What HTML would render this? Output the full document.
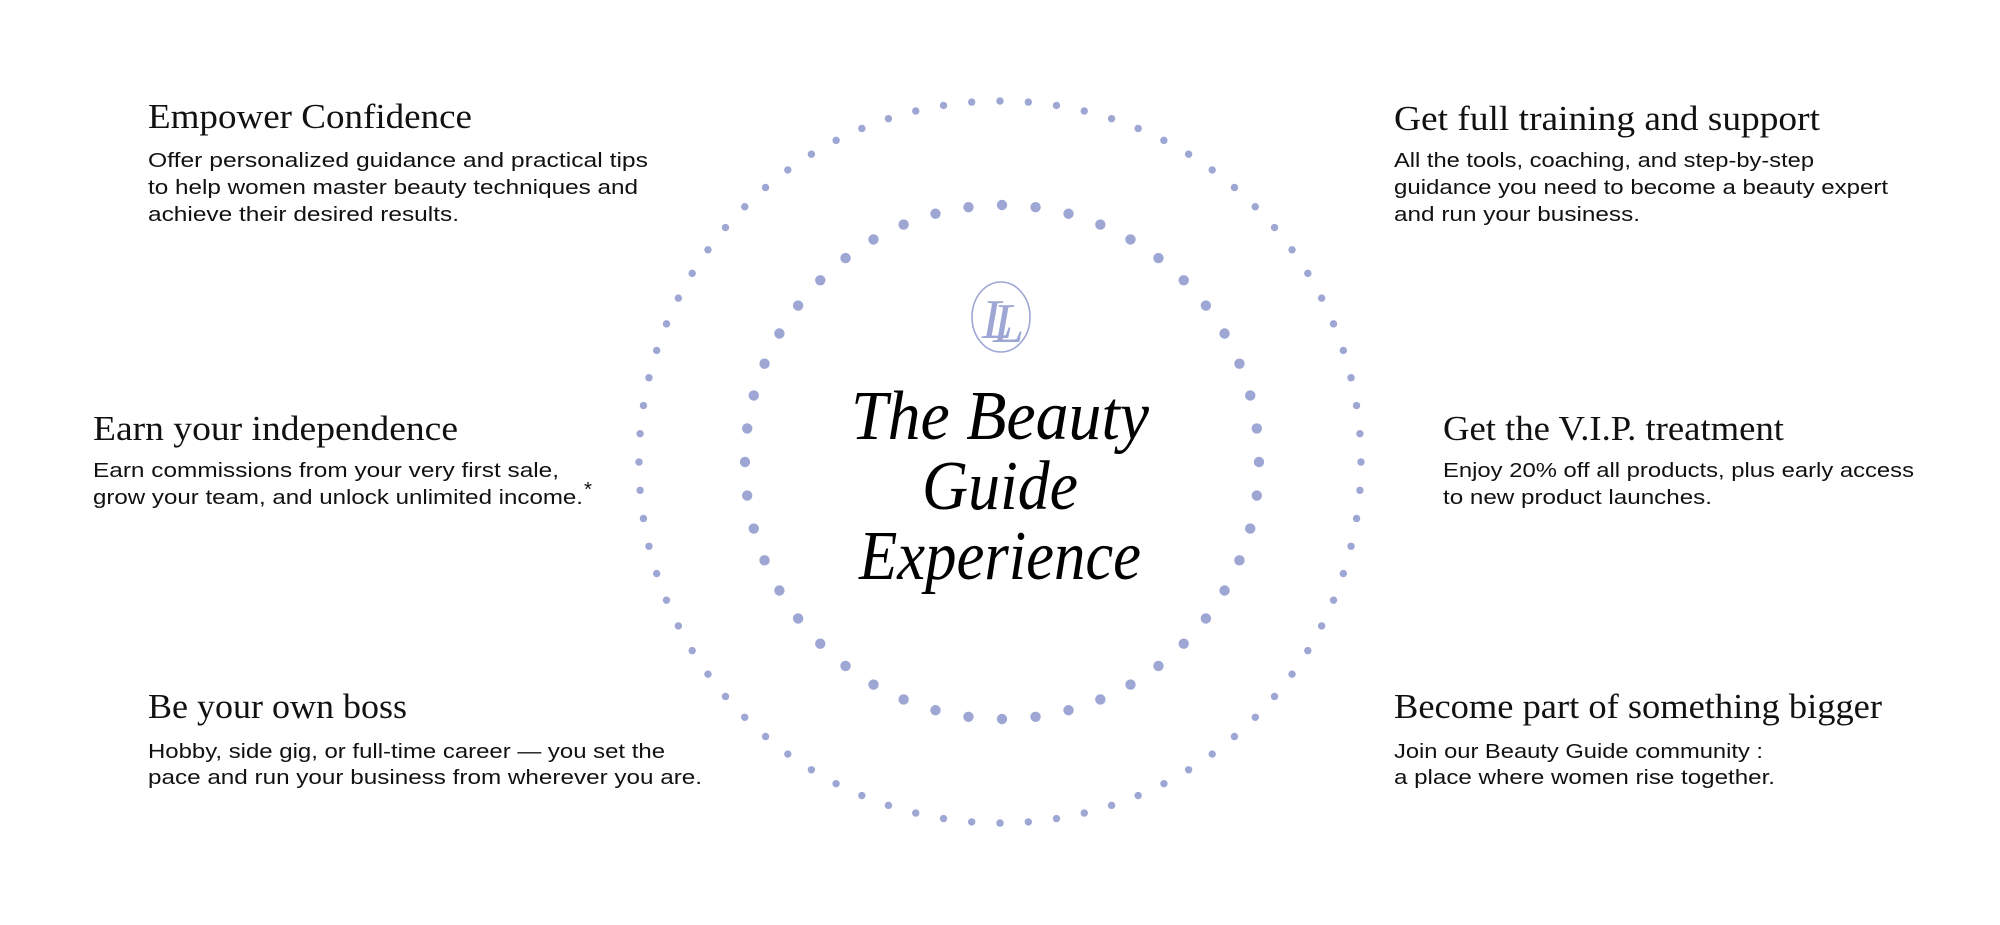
<!DOCTYPE html>
<html><head><meta charset="utf-8"><style>
html,body{margin:0;padding:0;background:#fff;}
svg{display:block;}
.h{font-family:"Liberation Serif",serif;font-size:35px;fill:#111;}
.b{font-family:"Liberation Sans",sans-serif;font-size:20.5px;fill:#111;}
.t{font-family:"Liberation Serif",serif;font-style:italic;font-size:70px;fill:#000;}
</style></head><body>
<svg id="s" width="2000" height="925" viewBox="0 0 2000 925" xmlns="http://www.w3.org/2000/svg">
<rect width="2000" height="925" fill="#fff"/>
<g id="dots" fill="#9ea6d4"></g>
<ellipse cx="1001" cy="317" rx="29" ry="35" fill="none" stroke="#9ea6d4" stroke-width="1.6"/>
<text x="982" y="338" font-family="Liberation Serif,serif" font-style="italic" font-size="56" fill="#9ea6d4">L</text>
<text x="993" y="342" font-family="Liberation Serif,serif" font-style="italic" font-size="56" fill="#9ea6d4">L</text>
<text class="t" x="851" y="439" textLength="298" lengthAdjust="spacingAndGlyphs">The Beauty</text>
<text class="t" x="922" y="509" textLength="156" lengthAdjust="spacingAndGlyphs">Guide</text>
<text class="t" x="859" y="579" textLength="282" lengthAdjust="spacingAndGlyphs">Experience</text>

<text class="h" x="148" y="128" textLength="324" lengthAdjust="spacingAndGlyphs">Empower Confidence</text>
<text class="b" x="148" y="167" textLength="500" lengthAdjust="spacingAndGlyphs">Offer personalized guidance and practical tips</text>
<text class="b" x="148" y="194" textLength="490" lengthAdjust="spacingAndGlyphs">to help women master beauty techniques and</text>
<text class="b" x="148" y="221" textLength="311" lengthAdjust="spacingAndGlyphs">achieve their desired results.</text>

<text class="h" x="93" y="440" textLength="365" lengthAdjust="spacingAndGlyphs">Earn your independence</text>
<text class="b" x="93" y="477" textLength="466" lengthAdjust="spacingAndGlyphs">Earn commissions from your very first sale,</text>
<text class="b" x="93" y="504" textLength="490" lengthAdjust="spacingAndGlyphs">grow your team, and unlock unlimited income.</text>
<text class="b" x="584" y="496" font-size="12">*</text>

<text class="h" x="148" y="718" textLength="259" lengthAdjust="spacingAndGlyphs">Be your own boss</text>
<text class="b" x="148" y="758" textLength="517" lengthAdjust="spacingAndGlyphs">Hobby, side gig, or full-time career — you set the</text>
<text class="b" x="148" y="784" textLength="554" lengthAdjust="spacingAndGlyphs">pace and run your business from wherever you are.</text>

<text class="h" x="1394" y="130" textLength="426" lengthAdjust="spacingAndGlyphs">Get full training and support</text>
<text class="b" x="1394" y="167" textLength="420" lengthAdjust="spacingAndGlyphs">All the tools, coaching, and step-by-step</text>
<text class="b" x="1394" y="194" textLength="494" lengthAdjust="spacingAndGlyphs">guidance you need to become a beauty expert</text>
<text class="b" x="1394" y="221" textLength="246" lengthAdjust="spacingAndGlyphs">and run your business.</text>

<text class="h" x="1443" y="440" textLength="341" lengthAdjust="spacingAndGlyphs">Get the V.I.P. treatment</text>
<text class="b" x="1443" y="477" textLength="471" lengthAdjust="spacingAndGlyphs">Enjoy 20% off all products, plus early access</text>
<text class="b" x="1443" y="504" textLength="269" lengthAdjust="spacingAndGlyphs">to new product launches.</text>

<text class="h" x="1394" y="718" textLength="488" lengthAdjust="spacingAndGlyphs">Become part of something bigger</text>
<text class="b" x="1394" y="758" textLength="369" lengthAdjust="spacingAndGlyphs">Join our Beauty Guide community :</text>
<text class="b" x="1394" y="784" textLength="381" lengthAdjust="spacingAndGlyphs">a place where women rise together.</text>
</svg>
<script>
var g=document.getElementById('dots'),ns='http://www.w3.org/2000/svg';
function ring(cx,cy,R,n,r){for(var i=0;i<n;i++){var a=-Math.PI/2+2*Math.PI*i/n;var c=document.createElementNS(ns,'circle');c.setAttribute('cx',(cx+R*Math.cos(a)).toFixed(2));c.setAttribute('cy',(cy+R*Math.sin(a)).toFixed(2));c.setAttribute('r',r);g.appendChild(c);}}
ring(1000,462,361,80,3.7);
ring(1002,462,257,48,5.2);
</script>
</body></html>
